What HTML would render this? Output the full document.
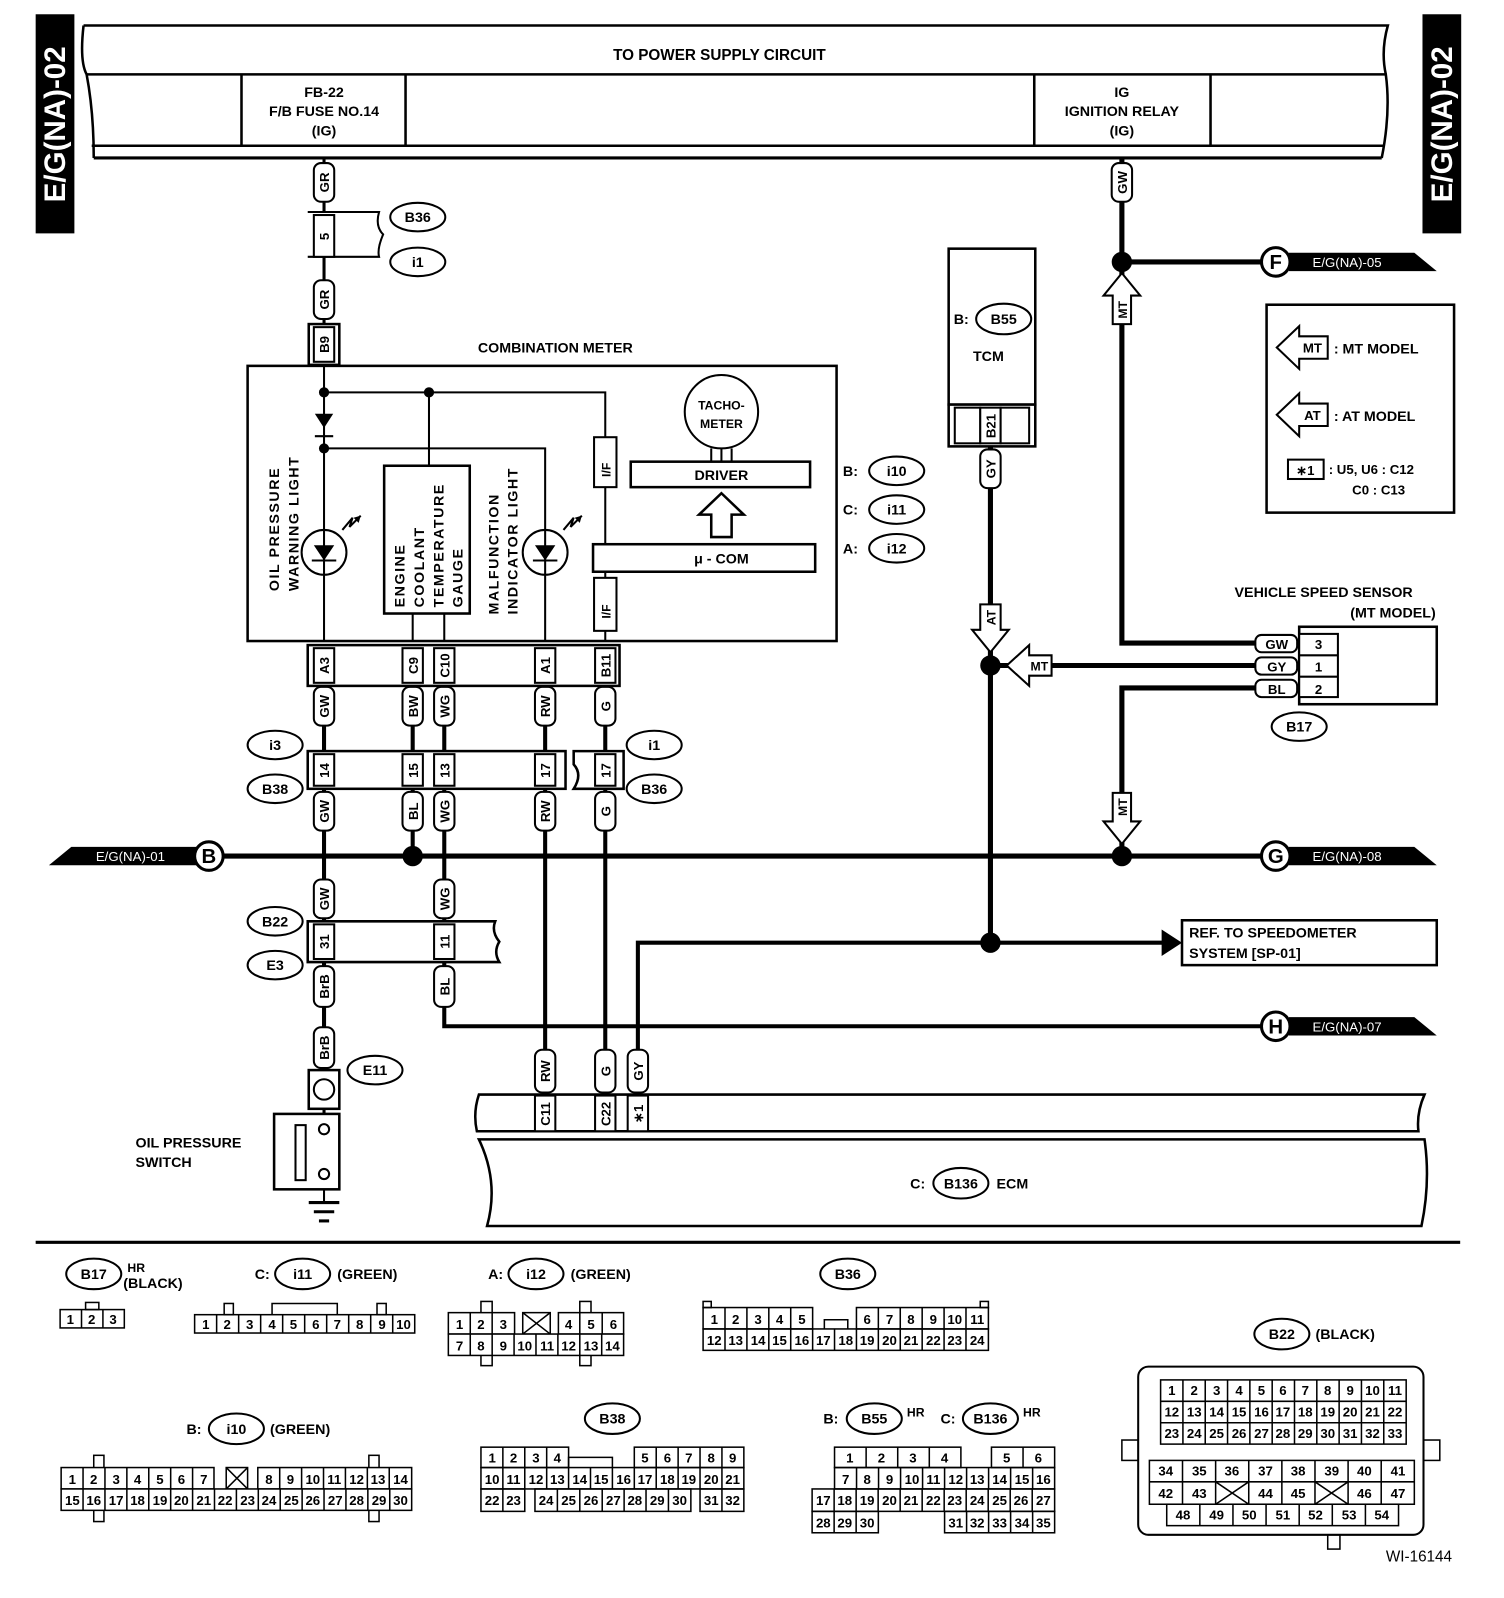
<!DOCTYPE html>
<html><head><meta charset="utf-8"><style>
html,body{margin:0;padding:0;background:#fff;}
svg{display:block;}
text{font-family:"Liberation Sans",sans-serif;font-weight:bold;fill:#000;}
</style></head><body>
<svg width="1504" height="1598" viewBox="0 0 1476 1568" preserveAspectRatio="none" xmlns="http://www.w3.org/2000/svg">
<rect width="1476" height="1568" fill="#fff"/>
<!-- side bands -->
<rect x="35" y="14" width="38" height="215" fill="#000"/>
<text transform="translate(64,122) rotate(-90)" text-anchor="middle" font-size="29" style="fill:#fff">E/G(NA)-02</text>
<rect x="1396" y="14" width="38" height="215" fill="#000"/>
<text transform="translate(1425,122) rotate(-90)" text-anchor="middle" font-size="29" style="fill:#fff">E/G(NA)-02</text>

<!-- top supply bar -->
<g fill="none" stroke="#000" stroke-width="2.5">
<path d="M82,25 L1362,25 Q1355,50 1360,73 Q1365,110 1356,155"/>
<path d="M82,25 Q78,60 85,73 Q92,110 92,155"/>
<line x1="84" y1="73" x2="1361" y2="73"/>
<line x1="90" y1="143" x2="1358" y2="143"/>
<line x1="92" y1="155" x2="1356" y2="155" stroke-width="3"/>
<line x1="237" y1="73" x2="237" y2="143"/>
<line x1="398" y1="73" x2="398" y2="143"/>
<line x1="1015" y1="73" x2="1015" y2="143"/>
<line x1="1188" y1="73" x2="1188" y2="143"/>
</g>
<text x="706" y="59" text-anchor="middle" font-size="15">TO POWER SUPPLY CIRCUIT</text>
<text x="318" y="95" text-anchor="middle" font-size="14">FB-22</text>
<text x="318" y="114" text-anchor="middle" font-size="14">F/B FUSE NO.14</text>
<text x="318" y="133" text-anchor="middle" font-size="14">(IG)</text>
<text x="1101" y="95" text-anchor="middle" font-size="14">IG</text>
<text x="1101" y="114" text-anchor="middle" font-size="14">IGNITION RELAY</text>
<text x="1101" y="133" text-anchor="middle" font-size="14">(IG)</text>

<!-- WIRES -->
<g stroke="#000" fill="none">
<line x1="318" y1="155" x2="318" y2="360" stroke-width="3"/>
<line x1="318" y1="673" x2="318" y2="1050" stroke-width="4"/>
<line x1="405" y1="673" x2="405" y2="840" stroke-width="4"/>
<polyline points="436,673 436,1007 1240,1007" stroke-width="4"/>
<line x1="535" y1="673" x2="535" y2="1074" stroke-width="4"/>
<line x1="594" y1="673" x2="594" y2="1074" stroke-width="4"/>
<polyline points="626,1074 626,925 1145,925" stroke-width="4"/>
<line x1="205" y1="840" x2="1250" y2="840" stroke-width="5"/>
<polyline points="1101,155 1101,631 1235,631" stroke-width="5"/>
<line x1="1101" y1="257" x2="1245" y2="257" stroke-width="5"/>
<line x1="972" y1="438" x2="972" y2="925" stroke-width="5"/>
<line x1="972" y1="653" x2="1235" y2="653" stroke-width="5"/>
<polyline points="1235,675 1101,675 1101,840" stroke-width="5"/>
</g>
<polygon points="1140,912 1160,925 1140,938" fill="#000"/>

<!-- meter interior -->
<rect x="243" y="359" width="578" height="270" fill="none" stroke="#000" stroke-width="2.5"/>
<text x="545" y="346" text-anchor="middle" font-size="14">COMBINATION METER</text>
<g stroke="#000" stroke-width="2" fill="none">
<line x1="318" y1="359" x2="318" y2="629"/>
<polyline points="318,385 594,385 594,429"/>
<line x1="421" y1="385" x2="421" y2="457"/>
<polyline points="318,440 535,440 535,629"/>
<line x1="405" y1="602" x2="405" y2="629"/>
<line x1="436" y1="602" x2="436" y2="629"/>
<line x1="594" y1="478" x2="594" y2="534"/>
<line x1="594" y1="561" x2="594" y2="567"/>
<line x1="594" y1="619" x2="594" y2="629"/>
<line x1="309" y1="428" x2="327" y2="428"/>
<rect x="377" y="457" width="84" height="145" stroke-width="2.5"/>
<rect x="583" y="429" width="22" height="49"/>
<rect x="583" y="567" width="22" height="52"/>
<rect x="582" y="534" width="218" height="27" stroke-width="2.5"/>
<rect x="619" y="453" width="176" height="25" stroke-width="2.5"/>
<circle cx="318" cy="542" r="22"/>
<circle cx="535" cy="542" r="22"/>
<line x1="306" y1="550" x2="330" y2="550"/>
<line x1="523" y1="550" x2="547" y2="550"/>
<circle cx="708" cy="404" r="36"/>
<line x1="698" y1="440" x2="698" y2="453"/><line x1="708" y1="440" x2="708" y2="453"/><line x1="718" y1="440" x2="718" y2="453"/>
<polygon points="708,484 730,505 718,505 718,527 698,527 698,505 686,505" stroke-width="2.5"/>
<polyline points="336,520 346,508 343,517 354,506"/>
<polyline points="553,520 563,508 560,517 571,506"/>
</g>
<polygon points="309,406 327,406 318,420" fill="#000"/>
<polygon points="308,535 328,535 318,550" fill="#000"/>
<polygon points="525,535 545,535 535,550" fill="#000"/>
<polygon points="354,506 347,508 352,513" fill="#000"/>
<polygon points="571,506 564,508 569,513" fill="#000"/>
<circle cx="318" cy="385" r="5"/><circle cx="421" cy="385" r="5"/><circle cx="318" cy="440" r="5"/>
<text transform="translate(274,580) rotate(-90)" font-size="14" letter-spacing="1.5">OIL PRESSURE</text>
<text transform="translate(293,580) rotate(-90)" font-size="14" letter-spacing="1.5">WARNING LIGHT</text>
<text transform="translate(397,596) rotate(-90)" font-size="14" letter-spacing="1.5">ENGINE</text>
<text transform="translate(416,596) rotate(-90)" font-size="14" letter-spacing="1.5">COOLANT</text>
<text transform="translate(435,596) rotate(-90)" font-size="14" letter-spacing="1.5">TEMPERATURE</text>
<text transform="translate(454,596) rotate(-90)" font-size="14" letter-spacing="1.5">GAUGE</text>
<text transform="translate(489,603) rotate(-90)" font-size="14" letter-spacing="1.5">MALFUNCTION</text>
<text transform="translate(508,603) rotate(-90)" font-size="14" letter-spacing="1.5">INDICATOR LIGHT</text>
<text transform="translate(599,461) rotate(-90)" text-anchor="middle" font-size="12">I/F</text>
<text transform="translate(599,600) rotate(-90)" text-anchor="middle" font-size="12">I/F</text>
<text x="708" y="402" text-anchor="middle" font-size="12">TACHO-</text>
<text x="708" y="420" text-anchor="middle" font-size="12">METER</text>
<text x="708" y="471" text-anchor="middle" font-size="14">DRIVER</text>
<text x="708" y="553" text-anchor="middle" font-size="14">μ - COM</text>

<!-- connectors -->
<g fill="#fff" stroke="#000" stroke-width="2">
<path d="M302,208 L372,208 Q368,222 376,230 Q370,244 372,252 L302,252" fill="#fff"/>
<rect x="308" y="211" width="20" height="41"/>
<rect x="303" y="318" width="30" height="40" stroke-width="2.5"/><rect x="308" y="321" width="20" height="34"/>
<rect x="302" y="633" width="306" height="40" stroke-width="2.5"/>
<rect x="308" y="636" width="20" height="34"/><rect x="395" y="636" width="20" height="34"/><rect x="426" y="636" width="20" height="34"/><rect x="525" y="636" width="20" height="34"/><rect x="584" y="636" width="20" height="34"/>
<rect x="302" y="737" width="253" height="37" stroke-width="2.5"/>
<rect x="308" y="740" width="20" height="31"/><rect x="395" y="740" width="20" height="31"/><rect x="426" y="740" width="20" height="31"/><rect x="525" y="740" width="20" height="31"/>
<path d="M563,737 L612,737 L612,774 L563,774 Q572,760 563,750 Z" stroke-width="2.5"/>
<rect x="584" y="740" width="20" height="31"/>
<path d="M302,904 L486,904 Q482,914 490,924 Q484,934 490,944 L302,944 Z" stroke-width="2.5"/>
<rect x="308" y="907" width="20" height="34"/><rect x="426" y="907" width="20" height="34"/>
<rect x="303" y="1050" width="30" height="38" stroke-width="2.5"/>
<circle cx="318" cy="1069" r="10"/>
<rect x="269" y="1093" width="64" height="74" stroke-width="2.5"/>
<rect x="290" y="1104" width="10" height="54"/>
<circle cx="318" cy="1108" r="5"/><circle cx="318" cy="1152" r="5"/>
<rect x="931" y="244" width="85" height="153" stroke-width="2.5"/>
<rect x="931" y="397" width="85" height="41" stroke-width="2.5"/>
<rect x="937" y="400" width="25" height="35"/><rect x="962" y="400" width="20" height="35"/><rect x="982" y="400" width="28" height="35"/>
<rect x="1275" y="615" width="135" height="76" stroke-width="2.5"/>
<rect x="1275" y="622" width="38" height="62"/>
<line x1="1275" y1="643" x2="1313" y2="643"/><line x1="1275" y1="664" x2="1313" y2="664"/>
<rect x="1243" y="299" width="184" height="204" stroke-width="2.5"/>
<rect x="1264" y="451" width="35" height="19"/>
<rect x="1160" y="903" width="250" height="44" stroke-width="2.5"/>
</g>
<line x1="318" y1="1088" x2="318" y2="1093" stroke="#000" stroke-width="3"/>
<line x1="318" y1="1167" x2="318" y2="1180" stroke="#000" stroke-width="2"/>
<line x1="303" y1="1180" x2="333" y2="1180" stroke="#000" stroke-width="3"/>
<line x1="308" y1="1189" x2="328" y2="1189" stroke="#000" stroke-width="3"/>
<line x1="313" y1="1198" x2="323" y2="1198" stroke="#000" stroke-width="3"/>

<g font-size="13">
<text transform="translate(323,232) rotate(-90)" text-anchor="middle">5</text>
<text transform="translate(323,338) rotate(-90)" text-anchor="middle">B9</text>
<text transform="translate(323,653) rotate(-90)" text-anchor="middle">A3</text>
<text transform="translate(410,653) rotate(-90)" text-anchor="middle">C9</text>
<text transform="translate(441,653) rotate(-90)" text-anchor="middle">C10</text>
<text transform="translate(540,653) rotate(-90)" text-anchor="middle">A1</text>
<text transform="translate(599,653) rotate(-90)" text-anchor="middle">B11</text>
<text transform="translate(323,756) rotate(-90)" text-anchor="middle">14</text>
<text transform="translate(410,756) rotate(-90)" text-anchor="middle">15</text>
<text transform="translate(441,756) rotate(-90)" text-anchor="middle">13</text>
<text transform="translate(540,756) rotate(-90)" text-anchor="middle">17</text>
<text transform="translate(599,756) rotate(-90)" text-anchor="middle">17</text>
<text transform="translate(323,924) rotate(-90)" text-anchor="middle">31</text>
<text transform="translate(441,924) rotate(-90)" text-anchor="middle">11</text>
<text transform="translate(977,418) rotate(-90)" text-anchor="middle">B21</text>
</g>

<!-- wire label capsules -->
<g fill="#fff" stroke="#000" stroke-width="2">
<rect x="308" y="160" width="20" height="38" rx="7"/>
<rect x="308" y="275" width="20" height="38" rx="7"/>
<rect x="308" y="674" width="20" height="38" rx="7"/>
<rect x="395" y="674" width="20" height="38" rx="7"/>
<rect x="426" y="674" width="20" height="38" rx="7"/>
<rect x="525" y="674" width="20" height="38" rx="7"/>
<rect x="584" y="674" width="20" height="38" rx="7"/>
<rect x="308" y="777" width="20" height="38" rx="7"/>
<rect x="395" y="777" width="20" height="38" rx="7"/>
<rect x="426" y="777" width="20" height="38" rx="7"/>
<rect x="525" y="777" width="20" height="38" rx="7"/>
<rect x="584" y="777" width="20" height="38" rx="7"/>
<rect x="308" y="863" width="20" height="38" rx="7"/>
<rect x="426" y="863" width="20" height="38" rx="7"/>
<rect x="308" y="948" width="20" height="40" rx="7"/>
<rect x="426" y="948" width="20" height="40" rx="7"/>
<rect x="308" y="1008" width="20" height="40" rx="7"/>
<rect x="525" y="1030" width="20" height="42" rx="7"/>
<rect x="584" y="1030" width="20" height="42" rx="7"/>
<rect x="616" y="1030" width="20" height="42" rx="7"/>
<rect x="1091" y="160" width="20" height="38" rx="7"/>
<rect x="962" y="441" width="20" height="38" rx="7"/>
<rect x="1232" y="623" width="41" height="17" rx="6"/>
<rect x="1232" y="645" width="41" height="17" rx="6"/>
<rect x="1232" y="667" width="41" height="17" rx="6"/>
</g>
<g font-size="13">
<text transform="translate(323,179) rotate(-90)" text-anchor="middle">GR</text>
<text transform="translate(323,294) rotate(-90)" text-anchor="middle">GR</text>
<text transform="translate(323,693) rotate(-90)" text-anchor="middle">GW</text>
<text transform="translate(410,693) rotate(-90)" text-anchor="middle">BW</text>
<text transform="translate(441,693) rotate(-90)" text-anchor="middle">WG</text>
<text transform="translate(540,693) rotate(-90)" text-anchor="middle">RW</text>
<text transform="translate(599,693) rotate(-90)" text-anchor="middle">G</text>
<text transform="translate(323,796) rotate(-90)" text-anchor="middle">GW</text>
<text transform="translate(410,796) rotate(-90)" text-anchor="middle">BL</text>
<text transform="translate(441,796) rotate(-90)" text-anchor="middle">WG</text>
<text transform="translate(540,796) rotate(-90)" text-anchor="middle">RW</text>
<text transform="translate(599,796) rotate(-90)" text-anchor="middle">G</text>
<text transform="translate(323,882) rotate(-90)" text-anchor="middle">GW</text>
<text transform="translate(441,882) rotate(-90)" text-anchor="middle">WG</text>
<text transform="translate(323,968) rotate(-90)" text-anchor="middle">BrB</text>
<text transform="translate(441,968) rotate(-90)" text-anchor="middle">BL</text>
<text transform="translate(323,1028) rotate(-90)" text-anchor="middle">BrB</text>
<text transform="translate(540,1051) rotate(-90)" text-anchor="middle">RW</text>
<text transform="translate(599,1051) rotate(-90)" text-anchor="middle">G</text>
<text transform="translate(631,1051) rotate(-90)" text-anchor="middle">GY</text>
<text transform="translate(1106,179) rotate(-90)" text-anchor="middle">GW</text>
<text transform="translate(977,460) rotate(-90)" text-anchor="middle">GY</text>
<text x="1253" y="637" text-anchor="middle">GW</text>
<text x="1253" y="659" text-anchor="middle">GY</text>
<text x="1253" y="681" text-anchor="middle">BL</text>
<text x="1294" y="637" text-anchor="middle">3</text>
<text x="1294" y="659" text-anchor="middle">1</text>
<text x="1294" y="681" text-anchor="middle">2</text>
</g>

<circle cx="405" cy="840" r="10"/>
<circle cx="1101" cy="840" r="10"/>
<circle cx="1101" cy="257" r="10"/>
<circle cx="972" cy="653" r="10"/>
<circle cx="972" cy="925" r="10"/>

<g fill="#fff" stroke="#000" stroke-width="2">
<polygon points="1101,268 1119,290 1110,290 1110,318 1092,318 1092,290 1083,290"/>
<polygon points="972,640 990,618 982,618 982,593 962,593 962,618 954,618"/>
<polygon points="988,653 1010,633 1010,643 1032,643 1032,663 1010,663 1010,673"/>
<polygon points="1101,828 1119,806 1110,806 1110,778 1092,778 1092,806 1083,806"/>
<polygon points="1253,341 1275,320 1275,330 1303,330 1303,352 1275,352 1275,362"/>
<polygon points="1253,407 1275,386 1275,396 1303,396 1303,418 1275,418 1275,428"/>
</g>
<g font-size="12">
<text transform="translate(1106,304) rotate(-90)" text-anchor="middle">MT</text>
<text transform="translate(977,606) rotate(-90)" text-anchor="middle">AT</text>
<text x="1020" y="658" text-anchor="middle">MT</text>
<text transform="translate(1106,792) rotate(-90)" text-anchor="middle">MT</text>
<text x="1288" y="346" text-anchor="middle" font-size="13">MT</text>
<text x="1288" y="412" text-anchor="middle" font-size="13">AT</text>
</g>
<text x="1309" y="347" font-size="14">: MT MODEL</text>
<text x="1309" y="413" font-size="14">: AT MODEL</text>
<text x="1281" y="466" text-anchor="middle" font-size="13">∗1</text>
<text x="1304" y="465" font-size="13">: U5, U6 : C12</text>
<text x="1327" y="485" font-size="13">C0 : C13</text>
<text x="970" y="354" text-anchor="middle" font-size="14">TCM</text>
<text x="936" y="318" font-size="14">B:</text>
<text x="1299" y="586" text-anchor="middle" font-size="14">VEHICLE SPEED SENSOR</text>
<text x="1409" y="606" text-anchor="end" font-size="14">(MT MODEL)</text>
<text x="1167" y="920" font-size="14">REF. TO SPEEDOMETER</text>
<text x="1167" y="940" font-size="14">SYSTEM [SP-01]</text>
<text x="133" y="1126" font-size="14">OIL PRESSURE</text>
<text x="133" y="1145" font-size="14">SWITCH</text>

<!-- ECM -->
<g fill="#fff" stroke="#000" stroke-width="2.5">
<path d="M470,1074 L1398,1074 Q1390,1092 1392,1110 L468,1110 Q464,1092 470,1074 Z"/>
<path d="M470,1118 L1398,1118 Q1404,1160 1395,1203 L478,1203 Q490,1160 470,1118 Z"/>
<rect x="525" y="1075" width="20" height="35" stroke-width="2"/>
<rect x="584" y="1075" width="20" height="35" stroke-width="2"/>
<rect x="616" y="1075" width="20" height="35" stroke-width="2"/>
</g>
<g font-size="13">
<text transform="translate(540,1093) rotate(-90)" text-anchor="middle">C11</text>
<text transform="translate(599,1093) rotate(-90)" text-anchor="middle">C22</text>
<text transform="translate(631,1093) rotate(-90)" text-anchor="middle">∗1</text>
</g>

<!-- ellipse labels -->
<g fill="#fff" stroke="#000" stroke-width="2">
<ellipse cx="410" cy="213" rx="27" ry="14"/>
<ellipse cx="410" cy="257" rx="27" ry="14"/>
<ellipse cx="985" cy="313" rx="27" ry="15"/>
<ellipse cx="880" cy="462" rx="27" ry="14"/>
<ellipse cx="880" cy="500" rx="27" ry="14"/>
<ellipse cx="880" cy="538" rx="27" ry="14"/>
<ellipse cx="270" cy="731" rx="27" ry="14"/>
<ellipse cx="270" cy="774" rx="27" ry="14"/>
<ellipse cx="642" cy="731" rx="27" ry="14"/>
<ellipse cx="642" cy="774" rx="27" ry="14"/>
<ellipse cx="270" cy="904" rx="27" ry="14"/>
<ellipse cx="270" cy="947" rx="27" ry="14"/>
<ellipse cx="368" cy="1050" rx="27" ry="14"/>
<ellipse cx="1275" cy="713" rx="27" ry="14"/>
<ellipse cx="943" cy="1161" rx="27" ry="15"/>
</g>
<g font-size="14" text-anchor="middle">
<text x="410" y="218">B36</text><text x="410" y="262">i1</text>
<text x="985" y="318">B55</text>
<text x="880" y="467">i10</text><text x="880" y="505">i11</text><text x="880" y="543">i12</text>
<text x="270" y="736">i3</text><text x="270" y="779">B38</text>
<text x="642" y="736">i1</text><text x="642" y="779">B36</text>
<text x="270" y="909">B22</text><text x="270" y="952">E3</text>
<text x="368" y="1055">E11</text>
<text x="1275" y="718">B17</text>
<text x="943" y="1166">B136</text>
</g>
<text x="842" y="467" text-anchor="end" font-size="14">B:</text>
<text x="842" y="505" text-anchor="end" font-size="14">C:</text>
<text x="842" y="543" text-anchor="end" font-size="14">A:</text>
<text x="908" y="1166" text-anchor="end" font-size="14">C:</text>
<text x="978" y="1166" font-size="14">ECM</text>

<!-- bus ends -->
<polygon points="48,849 70,831 195,831 195,849" fill="#000"/>
<text x="128" y="845" text-anchor="middle" font-size="13" style="fill:#fff;font-weight:normal">E/G(NA)-01</text>
<polygon points="1265,248 1388,248 1410,266 1265,266" fill="#000"/>
<text x="1322" y="262" text-anchor="middle" font-size="13" style="fill:#fff;font-weight:normal">E/G(NA)-05</text>
<polygon points="1265,831 1388,831 1410,849 1265,849" fill="#000"/>
<text x="1322" y="845" text-anchor="middle" font-size="13" style="fill:#fff;font-weight:normal">E/G(NA)-08</text>
<polygon points="1265,998 1388,998 1410,1016 1265,1016" fill="#000"/>
<text x="1322" y="1012" text-anchor="middle" font-size="13" style="fill:#fff;font-weight:normal">E/G(NA)-07</text>
<g fill="#fff" stroke="#000" stroke-width="3">
<circle cx="205" cy="840" r="14"/><circle cx="1252" cy="257" r="14"/><circle cx="1252" cy="840" r="14"/><circle cx="1252" cy="1007" r="14"/>
</g>
<g font-size="20" text-anchor="middle">
<text x="205" y="847">B</text><text x="1252" y="264">F</text><text x="1252" y="847">G</text><text x="1252" y="1014">H</text>
</g>

<line x1="35" y1="1219" x2="1433" y2="1219" stroke="#000" stroke-width="3"/>

<!-- BOTTOM CONNECTORS -->
<g fill="#fff" stroke="#000" stroke-width="2">
<ellipse cx="92" cy="1250" rx="27" ry="15"/>
<ellipse cx="297" cy="1250" rx="27" ry="15"/>
<ellipse cx="526" cy="1250" rx="27" ry="15"/>
<ellipse cx="832" cy="1250" rx="27" ry="15"/>
<ellipse cx="232" cy="1402" rx="27" ry="15"/>
<ellipse cx="601" cy="1392" rx="27" ry="15"/>
<ellipse cx="858" cy="1392" rx="27" ry="15"/>
<ellipse cx="972" cy="1392" rx="27" ry="15"/>
<ellipse cx="1258" cy="1309" rx="27" ry="15"/>
</g>
<g font-size="14" text-anchor="middle">
<text x="92" y="1255">B17</text><text x="297" y="1255">i11</text><text x="526" y="1255">i12</text><text x="832" y="1255">B36</text>
<text x="232" y="1407">i10</text><text x="601" y="1397">B38</text><text x="858" y="1397">B55</text><text x="972" y="1397">B136</text><text x="1258" y="1314">B22</text>
</g>
<g font-size="14">
<text x="125" y="1248" font-size="12">HR</text>
<text x="121" y="1264">(BLACK)</text>
<text x="250" y="1255">C:</text><text x="331" y="1255">(GREEN)</text>
<text x="479" y="1255">A:</text><text x="560" y="1255">(GREEN)</text>
<text x="183" y="1407">B:</text><text x="265" y="1407">(GREEN)</text>
<text x="808" y="1397">B:</text><text x="890" y="1390" font-size="12">HR</text>
<text x="923" y="1397">C:</text><text x="1004" y="1390" font-size="12">HR</text>
<text x="1291" y="1314">(BLACK)</text>
<text x="1425" y="1532" text-anchor="end" style="font-weight:normal" font-size="15">WI-16144</text>
</g>

<g fill="none" stroke="#000" stroke-width="1.5">
<rect x="84" y="1278" width="13" height="7"/>
<rect x="59" y="1285" width="63" height="18"/><line x1="80" y1="1285" x2="80" y2="1303"/><line x1="101" y1="1285" x2="101" y2="1303"/>
<rect x="220" y="1279" width="9" height="11"/><polyline points="267,1290 267,1279 331,1279 331,1290"/><rect x="370" y="1279" width="9" height="11"/>
<rect x="191" y="1290" width="216" height="18"/>
<path d="M212.6,1290v18M234.2,1290v18M255.8,1290v18M277.4,1290v18M299,1290v18M320.6,1290v18M342.2,1290v18M363.8,1290v18M385.4,1290v18"/>
<rect x="472" y="1277" width="11" height="63"/><rect x="569" y="1277" width="11" height="63"/>
<rect x="440" y="1288" width="65" height="21" fill="#fff"/><path d="M461.5,1288v21M483,1288v21"/>
<rect x="513" y="1288" width="27" height="21" fill="#fff"/><path d="M513,1288l27,21M540,1288l-27,21"/>
<rect x="548" y="1288" width="64" height="21" fill="#fff"/><path d="M569,1288v21M591,1288v21"/>
<rect x="440" y="1309" width="172" height="21" fill="#fff"/><path d="M461.5,1309v21M483,1309v21M504.5,1309v21M526,1309v21M547.5,1309v21M569,1309v21M590.5,1309v21"/>
<rect x="690" y="1277" width="8" height="6"/><rect x="962" y="1277" width="8" height="6"/>
<polyline points="809,1304 809,1295 832,1295 832,1304"/>
<rect x="690" y="1283" width="107.5" height="21"/><path d="M711.5,1283v21M733,1283v21M754.5,1283v21M776,1283v21"/>
<rect x="840.5" y="1283" width="129.5" height="21"/><path d="M862,1283v21M883.5,1283v21M905,1283v21M926.5,1283v21M948,1283v21"/>
<rect x="690" y="1304" width="280" height="21"/><path d="M711.5,1304v21M733,1304v21M754.5,1304v21M776,1304v21M797.5,1304v21M819,1304v21M840.5,1304v21M862,1304v21M883.5,1304v21M905,1304v21M926.5,1304v21M948,1304v21"/>
<rect x="92" y="1428" width="10" height="65"/><rect x="362" y="1428" width="10" height="65"/>
<rect x="60" y="1440" width="150" height="21" fill="#fff"/><path d="M81.5,1440v21M103,1440v21M124.5,1440v21M146,1440v21M167.5,1440v21M189,1440v21"/>
<rect x="222" y="1440" width="21" height="21" fill="#fff"/><path d="M222,1440l21,21M243,1440l-21,21"/>
<rect x="253" y="1440" width="151" height="21" fill="#fff"/><path d="M274.5,1440v21M296,1440v21M317.5,1440v21M339,1440v21M360.5,1440v21M382,1440v21"/>
<rect x="60" y="1461" width="344" height="21" fill="#fff"/><path d="M81.5,1461v21M103,1461v21M124.5,1461v21M146,1461v21M167.5,1461v21M189,1461v21M210.5,1461v21M232,1461v21M253.5,1461v21M275,1461v21M296.5,1461v21M318,1461v21M339.5,1461v21M361,1461v21M382.5,1461v21"/>
<polyline points="558,1440 558,1430 601,1430 601,1440"/>
<rect x="472" y="1420" width="86" height="20"/><path d="M493.5,1420v20M515,1420v20M536.5,1420v20"/>
<rect x="622.5" y="1420" width="107.5" height="20"/><path d="M644,1420v20M665.5,1420v20M687,1420v20M708.5,1420v20"/>
<rect x="472" y="1440" width="258" height="21"/><path d="M493.5,1440v21M515,1440v21M536.5,1440v21M558,1440v21M579.5,1440v21M601,1440v21M622.5,1440v21M644,1440v21M665.5,1440v21M687,1440v21M708.5,1440v21"/>
<rect x="472" y="1461" width="43" height="22"/><line x1="493.5" y1="1461" x2="493.5" y2="1483"/>
<rect x="525" y="1461" width="153" height="22"/><path d="M547,1461v22M569,1461v22M591,1461v22M612.5,1461v22M634,1461v22M656,1461v22"/>
<rect x="687" y="1461" width="43" height="22"/><line x1="708.5" y1="1461" x2="708.5" y2="1483"/>
<rect x="819" y="1420" width="124" height="20"/><path d="M850,1420v20M881,1420v20M912,1420v20"/>
<rect x="973" y="1420" width="62" height="20"/><path d="M1004,1420v20"/>
<rect x="819" y="1440" width="216" height="21"/><path d="M840.6,1440v21M862.2,1440v21M883.8,1440v21M905.4,1440v21M927,1440v21M948.6,1440v21M970.2,1440v21M991.8,1440v21M1013.4,1440v21"/>
<rect x="797" y="1461" width="238" height="22"/><path d="M818.6,1461v22M840.2,1461v22M861.8,1461v22M883.4,1461v22M905,1461v22M926.6,1461v22M948.2,1461v22M969.8,1461v22M991.4,1461v22M1013,1461v22"/>
<rect x="797" y="1483" width="65" height="21"/><path d="M818.6,1483v21M840.2,1483v21"/>
<rect x="927" y="1483" width="108" height="21"/><path d="M948.6,1483v21M970.2,1483v21M991.8,1483v21M1013.4,1483v21"/>
<rect x="1117" y="1341" width="280" height="165" rx="10" stroke-width="2"/>
<rect x="1101" y="1413" width="16" height="20"/><rect x="1397" y="1413" width="16" height="20"/>
<rect x="1303" y="1506" width="12" height="14"/>
<rect x="1139" y="1354" width="241" height="63"/>
<path d="M1139,1375h241M1139,1396h241M1160.9,1354v63M1182.8,1354v63M1204.7,1354v63M1226.6,1354v63M1248.5,1354v63M1270.4,1354v63M1292.3,1354v63M1314.2,1354v63M1336.1,1354v63M1358,1354v63"/>
<rect x="1128" y="1433" width="260" height="43"/>
<path d="M1128,1454h260M1160.5,1433v43M1193,1433v43M1225.5,1433v43M1258,1433v43M1290.5,1433v43M1323,1433v43M1355.5,1433v43"/>
<path d="M1193,1454l32.5,22M1225.5,1454l-32.5,22M1290.5,1454l32.5,22M1323,1454l-32.5,22"/>
<rect x="1145" y="1476" width="227.5" height="21"/>
<path d="M1177.5,1476v21M1210,1476v21M1242.5,1476v21M1275,1476v21M1307.5,1476v21M1340,1476v21"/>
</g>

<g font-size="13" text-anchor="middle" style="font-weight:normal">
<text x="69" y="1299">1</text><text x="90" y="1299">2</text><text x="111" y="1299">3</text>
<text x="202" y="1304">1</text><text x="223" y="1304">2</text><text x="245" y="1304">3</text><text x="267" y="1304">4</text><text x="288" y="1304">5</text><text x="310" y="1304">6</text><text x="331" y="1304">7</text><text x="353" y="1304">8</text><text x="375" y="1304">9</text><text x="396" y="1304">10</text>
<text x="451" y="1304">1</text><text x="472" y="1304">2</text><text x="494" y="1304">3</text><text x="558" y="1304">4</text><text x="580" y="1304">5</text><text x="602" y="1304">6</text>
<text x="451" y="1325">7</text><text x="472" y="1325">8</text><text x="494" y="1325">9</text><text x="515" y="1325">10</text><text x="537" y="1325">11</text><text x="558" y="1325">12</text><text x="580" y="1325">13</text><text x="601" y="1325">14</text>
<text x="701" y="1299">1</text><text x="722" y="1299">2</text><text x="744" y="1299">3</text><text x="765" y="1299">4</text><text x="787" y="1299">5</text>
<text x="851" y="1299">6</text><text x="873" y="1299">7</text><text x="894" y="1299">8</text><text x="916" y="1299">9</text><text x="937" y="1299">10</text><text x="959" y="1299">11</text>
<text x="701" y="1320">12</text><text x="722" y="1320">13</text><text x="744" y="1320">14</text><text x="765" y="1320">15</text><text x="787" y="1320">16</text><text x="808" y="1320">17</text><text x="830" y="1320">18</text><text x="851" y="1320">19</text><text x="873" y="1320">20</text><text x="894" y="1320">21</text><text x="916" y="1320">22</text><text x="937" y="1320">23</text><text x="959" y="1320">24</text>
<text x="71" y="1456">1</text><text x="92" y="1456">2</text><text x="114" y="1456">3</text><text x="135" y="1456">4</text><text x="157" y="1456">5</text><text x="178" y="1456">6</text><text x="200" y="1456">7</text>
<text x="264" y="1456">8</text><text x="285" y="1456">9</text><text x="307" y="1456">10</text><text x="328" y="1456">11</text><text x="350" y="1456">12</text><text x="371" y="1456">13</text><text x="393" y="1456">14</text>
<text x="71" y="1477">15</text><text x="92" y="1477">16</text><text x="114" y="1477">17</text><text x="135" y="1477">18</text><text x="157" y="1477">19</text><text x="178" y="1477">20</text><text x="200" y="1477">21</text><text x="221" y="1477">22</text><text x="243" y="1477">23</text><text x="264" y="1477">24</text><text x="286" y="1477">25</text><text x="307" y="1477">26</text><text x="329" y="1477">27</text><text x="350" y="1477">28</text><text x="372" y="1477">29</text><text x="393" y="1477">30</text>
<text x="483" y="1435">1</text><text x="504" y="1435">2</text><text x="526" y="1435">3</text><text x="547" y="1435">4</text>
<text x="633" y="1435">5</text><text x="655" y="1435">6</text><text x="676" y="1435">7</text><text x="698" y="1435">8</text><text x="719" y="1435">9</text>
<text x="483" y="1456">10</text><text x="504" y="1456">11</text><text x="526" y="1456">12</text><text x="547" y="1456">13</text><text x="569" y="1456">14</text><text x="590" y="1456">15</text><text x="612" y="1456">16</text><text x="633" y="1456">17</text><text x="655" y="1456">18</text><text x="676" y="1456">19</text><text x="698" y="1456">20</text><text x="719" y="1456">21</text>
<text x="483" y="1477">22</text><text x="504" y="1477">23</text>
<text x="536" y="1477">24</text><text x="558" y="1477">25</text><text x="580" y="1477">26</text><text x="602" y="1477">27</text><text x="623" y="1477">28</text><text x="645" y="1477">29</text><text x="667" y="1477">30</text>
<text x="698" y="1477">31</text><text x="719" y="1477">32</text>
<text x="834" y="1435">1</text><text x="865" y="1435">2</text><text x="896" y="1435">3</text><text x="927" y="1435">4</text><text x="988" y="1435">5</text><text x="1019" y="1435">6</text>
<text x="830" y="1456">7</text><text x="851" y="1456">8</text><text x="873" y="1456">9</text><text x="895" y="1456">10</text><text x="916" y="1456">11</text><text x="938" y="1456">12</text><text x="959" y="1456">13</text><text x="981" y="1456">14</text><text x="1003" y="1456">15</text><text x="1024" y="1456">16</text>
<text x="808" y="1477">17</text><text x="829" y="1477">18</text><text x="851" y="1477">19</text><text x="873" y="1477">20</text><text x="894" y="1477">21</text><text x="916" y="1477">22</text><text x="937" y="1477">23</text><text x="959" y="1477">24</text><text x="981" y="1477">25</text><text x="1002" y="1477">26</text><text x="1024" y="1477">27</text>
<text x="808" y="1499">28</text><text x="829" y="1499">29</text><text x="851" y="1499">30</text>
<text x="938" y="1499">31</text><text x="959" y="1499">32</text><text x="981" y="1499">33</text><text x="1003" y="1499">34</text><text x="1024" y="1499">35</text>
<text x="1150" y="1369">1</text><text x="1172" y="1369">2</text><text x="1194" y="1369">3</text><text x="1216" y="1369">4</text><text x="1238" y="1369">5</text><text x="1259" y="1369">6</text><text x="1281" y="1369">7</text><text x="1303" y="1369">8</text><text x="1325" y="1369">9</text><text x="1347" y="1369">10</text><text x="1369" y="1369">11</text>
<text x="1150" y="1390">12</text><text x="1172" y="1390">13</text><text x="1194" y="1390">14</text><text x="1216" y="1390">15</text><text x="1238" y="1390">16</text><text x="1259" y="1390">17</text><text x="1281" y="1390">18</text><text x="1303" y="1390">19</text><text x="1325" y="1390">20</text><text x="1347" y="1390">21</text><text x="1369" y="1390">22</text>
<text x="1150" y="1411">23</text><text x="1172" y="1411">24</text><text x="1194" y="1411">25</text><text x="1216" y="1411">26</text><text x="1238" y="1411">27</text><text x="1259" y="1411">28</text><text x="1281" y="1411">29</text><text x="1303" y="1411">30</text><text x="1325" y="1411">31</text><text x="1347" y="1411">32</text><text x="1369" y="1411">33</text>
<text x="1144" y="1448">34</text><text x="1177" y="1448">35</text><text x="1209" y="1448">36</text><text x="1242" y="1448">37</text><text x="1274" y="1448">38</text><text x="1307" y="1448">39</text><text x="1339" y="1448">40</text><text x="1372" y="1448">41</text>
<text x="1144" y="1470">42</text><text x="1177" y="1470">43</text><text x="1242" y="1470">44</text><text x="1274" y="1470">45</text><text x="1339" y="1470">46</text><text x="1372" y="1470">47</text>
<text x="1161" y="1491">48</text><text x="1194" y="1491">49</text><text x="1226" y="1491">50</text><text x="1259" y="1491">51</text><text x="1291" y="1491">52</text><text x="1324" y="1491">53</text><text x="1356" y="1491">54</text>
</g>
</svg>
</body></html>
